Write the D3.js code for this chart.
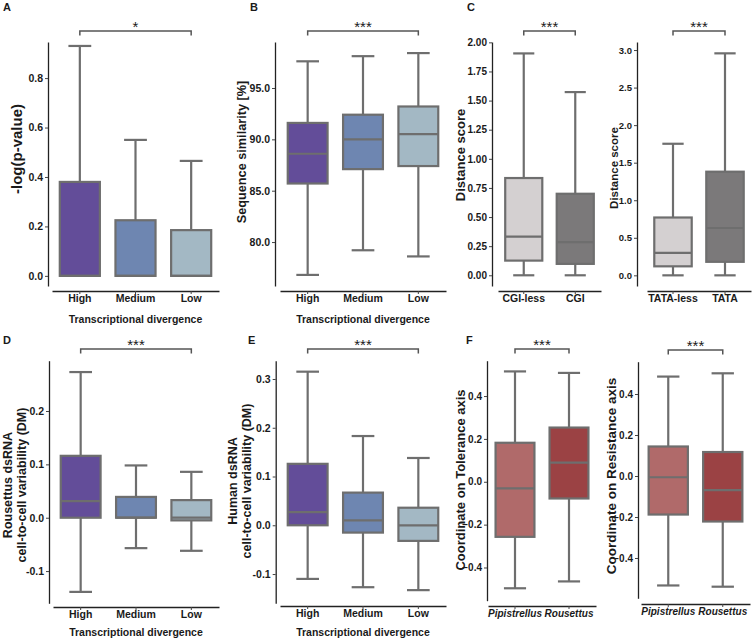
<!DOCTYPE html>
<html>
<head>
<meta charset="utf-8">
<script src="https://d3js.org/d3.v7.min.js"></script>
<style>
  body { margin: 0; background: #fff; }
  text { font-family: "Liberation Sans", Arial, sans-serif; font-weight: bold; fill: #1a1a1a; }
</style>
</head>
<body>
<script>
// ---- data (box stats are [min, q1, median, q3, max]) ----
const divergence = ["High", "Medium", "Low"];
const cgiGroups = ["CGI-less", "CGI"];
const tataGroups = ["TATA-less", "TATA"];
const batGroups = ["Pipistrellus", "Rousettus"];

const pvalStats = [[0, 0, 0, 0.38, 0.93], [0, 0, 0, 0.225, 0.55], [0, 0, 0, 0.185, 0.465]];
const similarityStats = [[76.8, 85.7, 88.6, 91.6, 97.6], [79.2, 87.1, 90.0, 92.4, 98.1], [78.6, 87.4, 90.5, 93.2, 98.4]];
const cgiStats = [[0, 0.126, 0.332, 0.835, 1.905], [0, 0.098, 0.284, 0.70, 1.573]];
const tataStats = [[0, 0.12, 0.30, 0.77, 1.752], [0, 0.18, 0.63, 1.38, 2.956]];
const rousettusDmStats = [[-0.139, 0, 0.031, 0.116, 0.273], [-0.057, 0, 0, 0.039, 0.098], [-0.062, -0.005, 0, 0.033, 0.086]];
const humanDmStats = [[-0.110, 0, 0.027, 0.126, 0.315], [-0.127, -0.015, 0.010, 0.067, 0.183], [-0.133, -0.032, 0, 0.036, 0.138]];
const toleranceStats = [[-0.497, -0.257, -0.031, 0.182, 0.515], [-0.465, -0.078, 0.089, 0.253, 0.508]];
const resistanceStats = [[-0.534, -0.188, -0.006, 0.144, 0.485], [-0.540, -0.222, -0.069, 0.117, 0.501]];

const pvalTicks = [0, 0.2, 0.4, 0.6, 0.8];
const similarityTicks = [80, 85, 90, 95];
const cgiTicks = [0, 0.25, 0.5, 0.75, 1, 1.25, 1.5, 1.75, 2];
const tataTicks = [0, 0.5, 1, 1.5, 2, 2.5, 3];
const rousettusTicks = [-0.1, 0, 0.1, 0.2];
const humanTicks = [-0.1, 0, 0.1, 0.2, 0.3];
const coordTicks = [-0.4, -0.2, 0, 0.2, 0.4];

const divergenceColors = ["#634d99", "#6e86b1", "#a3b8c4"];
const greyColors = ["#d4d0d1", "#7b797a"];
const redColors = ["#b06a6a", "#9b4244"];

const boxStroke = "#6e6e6e";

const svg = d3.select("body").append("svg")
  .attr("width", 752)
  .attr("height", 638);

const hyphen = d => d.toFixed(1);

function drawPanel(p) {
  const g = svg.append("g");
  const y = d3.scaleLinear().domain(p.domain).range([p.yBottom, p.yTop]);
  const x = d3.scaleBand().domain(p.groups).range(p.xRange);
  const bw = x.bandwidth() * 0.72;
  const cap = x.bandwidth() * 0.41;
  const tickFont = p.tickFont || 10.5;

  // y title first so tick labels stay on top where they overlap
  p.yTitle.forEach((t, i) => {
    g.append("text")
      .attr("transform", "translate(" + p.yTitleX[i] + "," + p.yTitleY + ") rotate(-90)")
      .attr("text-anchor", "middle")
      .attr("dominant-baseline", "central")
      .style("font-size", p.yTitleSize + "px")
      .text(t);
  });

  // y axis
  const ya = g.append("g")
    .attr("transform", "translate(" + p.axisX + ",0)")
    .call(d3.axisLeft(y).tickValues(p.ticks).tickSize(3).tickSizeOuter(0).tickFormat(p.fmt));
  ya.select(".domain").attr("stroke", "#222").attr("stroke-width", 1.3);
  ya.selectAll(".tick line").attr("stroke", "#444");
  ya.selectAll(".tick text").attr("x", -5).style("font-size", tickFont + "px");

  // x axis
  const xa = g.append("g")
    .attr("transform", "translate(0," + p.axisY + ")")
    .call(d3.axisBottom(x).tickSize(3).tickSizeOuter(0));
  xa.select(".domain").attr("stroke", "#222").attr("stroke-width", 1.3);
  xa.selectAll(".tick line").attr("stroke", "#444");
  xa.selectAll(".tick text").attr("y", 11).attr("dy", 0)
    .style("font-size", (p.italic ? 10 : 10.5) + "px")
    .style("font-style", p.italic ? "italic" : "normal");

  const box = g.selectAll(".box")
    .data(p.stats)
    .enter()
    .append("g")
    .attr("transform", (d, i) => "translate(" + (x(p.groups[i]) + x.bandwidth() / 2) + ",0)");

  // whiskers
  box.append("line")
    .attr("x1", 0).attr("x2", 0)
    .attr("y1", d => y(d[0])).attr("y2", d => y(d[4]))
    .attr("stroke", boxStroke).attr("stroke-width", 2.2);
  box.append("line")
    .attr("x1", -cap / 2).attr("x2", cap / 2)
    .attr("y1", d => y(d[4])).attr("y2", d => y(d[4]))
    .attr("stroke", boxStroke).attr("stroke-width", 2.2);
  box.append("line")
    .attr("x1", -cap / 2).attr("x2", cap / 2)
    .attr("y1", d => y(d[0])).attr("y2", d => y(d[0]))
    .attr("stroke", boxStroke).attr("stroke-width", 2.2);

  // boxes
  box.append("rect")
    .attr("x", -bw / 2)
    .attr("width", bw)
    .attr("y", d => y(d[3]))
    .attr("height", d => Math.max(0.5, y(d[1]) - y(d[3])))
    .attr("fill", (d, i) => p.colors[i])
    .attr("stroke", boxStroke)
    .attr("stroke-width", 2.2);
  box.append("line")
    .attr("x1", -bw / 2).attr("x2", bw / 2)
    .attr("y1", d => y(d[2])).attr("y2", d => y(d[2]))
    .attr("stroke", boxStroke).attr("stroke-width", 2.2);

  // significance bracket
  const bx1 = x(p.groups[0]) + x.bandwidth() / 2;
  const bx2 = x(p.groups[p.groups.length - 1]) + x.bandwidth() / 2;
  g.append("path")
    .attr("d", "M" + bx1 + "," + (p.bracketY + 4.5) + "V" + p.bracketY + "H" + bx2 + "V" + (p.bracketY + 4.5))
    .attr("fill", "none").attr("stroke", "#555").attr("stroke-width", 1.5);
  g.append("text")
    .attr("x", (bx1 + bx2) / 2).attr("y", p.bracketY + 1)
    .attr("text-anchor", "middle")
    .style("font-size", "15px").style("font-weight", "normal")
    .text(p.stars);

  if (p.xTitle) {
    g.append("text")
      .attr("x", (p.xRange[0] + p.xRange[1]) / 2).attr("y", p.xTitleY)
      .attr("text-anchor", "middle")
      .style("font-size", "10.5px")
      .text(p.xTitle);
  }

  if (p.letter) {
    g.append("text")
      .attr("x", p.letterX).attr("y", p.letterY)
      .style("font-size", "11px")
      .text(p.letter);
  }
}

drawPanel({ groups: divergence, stats: pvalStats, colors: divergenceColors, ticks: pvalTicks, fmt: d3.format(".1f"),
  domain: [-0.041, 0.946], yTop: 42, yBottom: 286, axisX: 48, xRange: [52, 219], axisY: 291,
  bracketY: 31, stars: "*", yTitle: ["-log(p-value)"], yTitleX: [16], yTitleY: 149, yTitleSize: 15,
  xTitle: "Transcriptional divergence", xTitleY: 323, letter: "A", letterX: 3, letterY: 11 });

drawPanel({ groups: divergence, stats: similarityStats, colors: divergenceColors, ticks: similarityTicks, fmt: d3.format(".1f"),
  domain: [75.72, 99.48], yTop: 42, yBottom: 286, axisX: 275, xRange: [280, 446], axisY: 291,
  bracketY: 31, stars: "***", yTitle: ["Sequence similarity [%]"], yTitleX: [242], yTitleY: 152, yTitleSize: 12.7,
  xTitle: "Transcriptional divergence", xTitleY: 323, letter: "B", letterX: 250, letterY: 11 });

drawPanel({ groups: cgiGroups, stats: cgiStats, colors: greyColors, ticks: cgiTicks, fmt: d3.format(".2f"), tickFont: 10,
  domain: [-0.092, 2.003], yTop: 42, yBottom: 286, axisX: 492, xRange: [498, 601], axisY: 291,
  bracketY: 31, stars: "***", yTitle: ["Distance score"], yTitleX: [460], yTitleY: 155, yTitleSize: 13,
  letter: "C", letterX: 467, letterY: 11 });

drawPanel({ groups: tataGroups, stats: tataStats, colors: greyColors, ticks: tataTicks, fmt: d3.format(".1f"), tickFont: 9.5,
  domain: [-0.142, 3.107], yTop: 42, yBottom: 286, axisX: 637, xRange: [647, 751], axisY: 291,
  bracketY: 31, stars: "***", yTitle: ["Distance score"], yTitleX: [614], yTitleY: 168, yTitleSize: 11.5 });

drawPanel({ groups: divergence, stats: rousettusDmStats, colors: divergenceColors, ticks: rousettusTicks, fmt: hyphen,
  domain: [-0.1604, 0.2943], yTop: 360.7, yBottom: 603.3, axisX: 49, xRange: [53, 219], axisY: 607,
  bracketY: 349, stars: "***", yTitle: ["Rousettus dsRNA", "cell-to-cell variability (DM)"], yTitleX: [8, 22], yTitleY: 485, yTitleSize: 12.5,
  xTitle: "Transcriptional divergence", xTitleY: 636, letter: "D", letterX: 3, letterY: 344 });

drawPanel({ groups: divergence, stats: humanDmStats, colors: divergenceColors, ticks: humanTicks, fmt: hyphen,
  domain: [-0.16, 0.3375], yTop: 360.7, yBottom: 603.3, axisX: 275.7, xRange: [280, 446], axisY: 606,
  bracketY: 349, stars: "***", yTitle: ["Human dsRNA", "cell-to-cell variability (DM)"], yTitleX: [233, 247], yTitleY: 481, yTitleSize: 12.5,
  xTitle: "Transcriptional divergence", xTitleY: 636, letter: "E", letterX: 248, letterY: 344 });

drawPanel({ groups: batGroups, stats: toleranceStats, colors: redColors, ticks: coordTicks, fmt: d3.format(".1f"), italic: true, tickFont: 10,
  domain: [-0.555, 0.565], yTop: 360.7, yBottom: 600.7, axisX: 487, xRange: [488, 596], axisY: 606,
  bracketY: 349, stars: "***", yTitle: ["Coordinate on Tolerance axis"], yTitleX: [460], yTitleY: 480, yTitleSize: 13,
  letter: "F", letterX: 466, letterY: 344 });

drawPanel({ groups: batGroups, stats: resistanceStats, colors: redColors, ticks: coordTicks, fmt: d3.format(".1f"), italic: true, tickFont: 10,
  domain: [-0.5966, 0.5576], yTop: 361.7, yBottom: 598.3, axisX: 638, xRange: [641, 750], axisY: 604,
  bracketY: 350, stars: "***", yTitle: ["Coordinate on Resistance axis"], yTitleX: [611], yTitleY: 476, yTitleSize: 13.5 });
</script>
</body>
</html>
